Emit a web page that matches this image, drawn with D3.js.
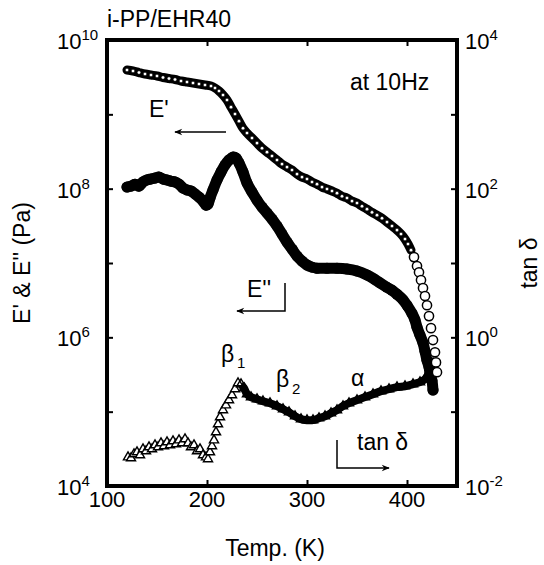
<!DOCTYPE html>
<html>
<head>
<meta charset="utf-8">
<script src="https://cdn.jsdelivr.net/npm/d3@7"></script>
<style>
  body { margin: 0; background: #fff; }
  svg { font-family: "Liberation Sans", Arial, Helvetica, sans-serif; }
</style>
</head>
<body>
<svg id="drawing_region"></svg>
<script>
// E' (storage modulus, Pa) - open circles
const tempStorage = [120,126,132,138,144,150,156,162,168,174,180,186,192,198,204,208,212,216,220,224,228,232,236,240,245,250,255,260,265,270,275,280,285,290,295,300,305,310,315,320,325,330,335,340,345,350,355,360,365,370,375,380,385,390,394,398,401,404,407,410,412,414,416,418,420,422,424,426,428,429,430];
const storageModulus = [3.95e9,3.83e9,3.65e9,3.49e9,3.38e9,3.28e9,3.13e9,3.03e9,2.94e9,2.81e9,2.72e9,2.64e9,2.56e9,2.48e9,2.40e9,2.26e9,2.06e9,1.82e9,1.56e9,1.25e9,1.01e9,8.1e8,6.5e8,5.6e8,4.8e8,4.1e8,3.5e8,3.1e8,2.75e8,2.43e8,2.14e8,1.95e8,1.78e8,1.57e8,1.43e8,1.35e8,1.23e8,1.15e8,1.05e8,9.9e7,9.3e7,8.7e7,7.9e7,7.5e7,6.8e7,6.4e7,5.8e7,5.3e7,4.8e7,4.4e7,4.0e7,3.55e7,3.14e7,2.77e7,2.45e7,2.10e7,1.80e7,1.49e7,1.20e7,9.1e6,7.5e6,5.9e6,4.6e6,3.6e6,2.7e6,1.93e6,1.33e6,9.2e5,6.3e5,4.6e5,3.4e5];

// E'' (loss modulus, Pa) - filled circles
const tempLoss = [120,124,128,132,136,140,144,148,152,156,160,164,168,172,176,180,184,188,192,196,199,201,203,206,210,214,218,222,226,229,232,236,240,245,250,255,260,265,270,275,280,285,290,295,300,305,310,320,330,340,350,360,367,373,380,385,390,396,400,405,408,410,413,416,418,420,422,423,425,426];
const lossModulus = [1.05e8,1.08e8,1.15e8,1.08e8,1.23e8,1.31e8,1.35e8,1.39e8,1.43e8,1.35e8,1.31e8,1.26e8,1.23e8,1.15e8,1.02e8,9.6e7,9.3e7,8.5e7,7.7e7,6.8e7,6.0e7,6.2e7,7.5e7,9.6e7,1.31e8,1.67e8,2.08e8,2.43e8,2.66e8,2.58e8,2.21e8,1.67e8,1.19e8,9.0e7,7.0e7,5.65e7,4.7e7,3.9e7,3.14e7,2.45e7,1.91e7,1.54e7,1.24e7,1.06e7,9.4e6,8.8e6,8.5e6,8.5e6,8.5e6,8.3e6,7.8e6,6.9e6,6.1e6,5.4e6,4.7e6,4.3e6,3.8e6,3.2e6,2.7e6,2.1e6,1.71e6,1.37e6,1.07e6,8.4e5,6.5e5,4.9e5,4.0e5,3.3e5,2.6e5,1.95e5];

// tan delta - open triangles (right axis)
const tempTan = [121,124,127,130,133,136,139,142,145,148,151,154,157,160,163,166,169,172,175,178,181,184,187,190,193,196,199,201,203,205,207,209,211,213,216,219,222,225,228,231,234,237,240,244,250,256,263,270,276,282,288,294,300,306,312,318,324,330,336,342,350,358,366,374,382,390,398,406,413,418,421,424,426];
const tanDelta = [0.0244,0.0237,0.0268,0.0285,0.0260,0.0313,0.0294,0.0333,0.0313,0.0354,0.0333,0.0377,0.0344,0.0389,0.0354,0.0401,0.0366,0.0413,0.0377,0.0427,0.0377,0.0333,0.0354,0.0294,0.0313,0.0260,0.0244,0.0230,0.0285,0.0344,0.0413,0.0530,0.0679,0.0843,0.105,0.122,0.143,0.167,0.201,0.242,0.234,0.207,0.172,0.157,0.147,0.138,0.130,0.119,0.108,0.0984,0.0869,0.0793,0.0769,0.0769,0.0818,0.0869,0.0955,0.105,0.119,0.130,0.143,0.157,0.172,0.189,0.201,0.214,0.220,0.234,0.249,0.274,0.310,0.362,0.450];

const xTicks = [200, 300, 400];
const xTickLabels = [100, 200, 300, 400];
const leftTicks = [1e5, 1e6, 1e7, 1e8, 1e9];
const leftLabelExp = [10, 8, 6, 4];
const rightTicks = [1e-1, 1e0, 1e1, 1e2, 1e3];
const rightLabelExp = [4, 2, 0, -2];

const config = {
    width: 544,
    height: 565,
    margin: {top: 40, left: 107, right: 87, bottom: 79}
};

const svg = d3.select('#drawing_region')
    .attr('width', config.width)
    .attr('height', config.height);

const inner_width = config.width - config.margin.left - config.margin.right;
const inner_height = config.height - config.margin.top - config.margin.bottom;

const chart = svg.append('g')
    .attr('transform', `translate(${config.margin.left}, ${config.margin.top})`);

const xscale = d3.scaleLinear().domain([100, 450]).range([0, inner_width]);
const yleft = d3.scaleLog().domain([1e4, 1e10]).range([inner_height, 0]);
const yright = d3.scaleLog().domain([1e-2, 1e4]).range([inner_height, 0]);

const storage = tempStorage.map((t, i) => ({t: t, v: storageModulus[i]}));
const loss = tempLoss.map((t, i) => ({t: t, v: lossModulus[i]}));
const tand = tempTan.map((t, i) => ({t: t, v: tanDelta[i]}));

// E'' : thick band of filled circles
chart.append('path')
    .datum(loss)
    .attr('fill', 'none')
    .attr('stroke', 'black')
    .attr('stroke-width', 11)
    .attr('stroke-linejoin', 'round')
    .attr('stroke-linecap', 'round')
    .attr('d', d3.line().x(d => xscale(d.t)).y(d => yleft(d.v)).curve(d3.curveCatmullRom));

chart.selectAll('.loss')
    .data(loss)
    .enter()
    .append('circle')
    .attr('cx', d => xscale(d.t))
    .attr('cy', d => yleft(d.v))
    .attr('r', 5.5)
    .attr('fill', 'black');

// tan delta
chart.append('path')
    .datum(tand)
    .attr('fill', 'none')
    .attr('stroke', 'black')
    .attr('stroke-width', 8)
    .attr('stroke-linejoin', 'round')
    .attr('d', d3.line().defined(d => d.t >= 234).x(d => xscale(d.t)).y(d => yright(d.v)).curve(d3.curveCatmullRom));

chart.selectAll('.tan')
    .data(tand)
    .enter()
    .append('path')
    .attr('transform', d => `translate(${xscale(d.t)}, ${yright(d.v)})`)
    .attr('d', d3.symbol(d3.symbolTriangle, 36))
    .attr('fill', d => d.t >= 234 ? 'none' : 'white')
    .attr('stroke', 'black')
    .attr('stroke-width', 1.4);

// E' : band of open circles
chart.append('path')
    .datum(storage)
    .attr('fill', 'none')
    .attr('stroke', 'black')
    .attr('stroke-width', 9)
    .attr('stroke-linejoin', 'round')
    .attr('stroke-linecap', 'round')
    .attr('d', d3.line().defined(d => d.t <= 404).x(d => xscale(d.t)).y(d => yleft(d.v)).curve(d3.curveCatmullRom));

chart.selectAll('.storage')
    .data(storage)
    .enter()
    .append('circle')
    .attr('cx', d => xscale(d.t))
    .attr('cy', d => yleft(d.v))
    .attr('r', d => d.t <= 404 ? 1.8 : 4.6)
    .attr('fill', 'white')
    .attr('stroke', 'black')
    .attr('stroke-width', d => d.t <= 404 ? 0.6 : 1.5);

// ticks (inward)
const tickStyle = g => {
    g.select('.domain').remove();
    g.selectAll('line').attr('stroke', 'black').attr('stroke-width', 2);
};
chart.append('g')
    .attr('transform', `translate(0, ${inner_height})`)
    .call(d3.axisBottom(xscale).tickValues(xTicks).tickSize(-6).tickSizeOuter(0).tickFormat(''))
    .call(tickStyle);
chart.append('g')
    .call(d3.axisTop(xscale).tickValues(xTicks).tickSize(-6).tickSizeOuter(0).tickFormat(''))
    .call(tickStyle);
chart.append('g')
    .call(d3.axisLeft(yleft).tickValues(leftTicks).tickSize(-6).tickSizeOuter(0).tickFormat(''))
    .call(tickStyle);
chart.append('g')
    .attr('transform', `translate(${inner_width}, 0)`)
    .call(d3.axisRight(yright).tickValues(rightTicks).tickSize(-6).tickSizeOuter(0).tickFormat(''))
    .call(tickStyle);

// frame
chart.append('rect')
    .attr('width', inner_width)
    .attr('height', inner_height)
    .attr('fill', 'none')
    .attr('stroke', 'black')
    .attr('stroke-width', 4);

// tick labels
chart.selectAll('.xlabel')
    .data(xTickLabels)
    .enter()
    .append('text')
    .attr('x', d => xscale(d))
    .attr('y', inner_height + 21)
    .attr('text-anchor', 'middle')
    .style('font-size', '22px')
    .text(d => d);

const powLabel = (sel, x, y, exp) => {
    const t = sel.append('text')
        .attr('x', x)
        .attr('y', y)
        .style('font-size', '22px');
    t.append('tspan').text('10');
    t.append('tspan').attr('dy', -9).style('font-size', '15px').text(exp);
};

leftLabelExp.forEach(e => powLabel(chart, -50, yleft(Math.pow(10, e)) + 9, e));
rightLabelExp.forEach(e => powLabel(chart, inner_width + 8, yright(Math.pow(10, e)) + 9, e));

// axis titles
svg.append('text')
    .attr('x', config.margin.left + inner_width / 2 - 7)
    .attr('y', 556)
    .attr('text-anchor', 'middle')
    .style('font-size', '23px')
    .text('Temp. (K)');

svg.append('text')
    .attr('transform', 'translate(30, 263) rotate(-90)')
    .attr('text-anchor', 'middle')
    .style('font-size', '23px')
    .text("E' & E'' (Pa)");

svg.append('text')
    .attr('transform', 'translate(537, 263) rotate(-90)')
    .attr('text-anchor', 'middle')
    .style('font-size', '23px')
    .text('tan \u03b4');

svg.append('text')
    .attr('x', 107)
    .attr('y', 27)
    .style('font-size', '23px')
    .text('i-PP/EHR40');

// annotations
const note = (x, y, txt, size) => svg.append('text')
    .attr('x', x).attr('y', y)
    .style('font-size', (size || 23) + 'px')
    .text(txt);

note(350, 90, 'at 10Hz');
note(149, 117, "E'");
note(247, 297, "E''");
note(221, 362, '\u03b2');
note(237, 368, '1', 15);
note(276, 387, '\u03b2');
note(292, 394, '2', 15);
note(351, 386, '\u03b1');
note(357, 450, 'tan \u03b4');

svg.append('defs').append('marker')
    .attr('id', 'head')
    .attr('viewBox', '0 0 10 10')
    .attr('refX', 9).attr('refY', 5)
    .attr('markerWidth', 10).attr('markerHeight', 8)
    .attr('markerUnits', 'userSpaceOnUse')
    .attr('orient', 'auto')
    .append('path')
    .attr('d', 'M0,1 L10,5 L0,9 L3,5 Z')
    .attr('fill', 'black');

const arrow = pts => svg.append('path')
    .attr('d', d3.line()(pts))
    .attr('fill', 'none')
    .attr('stroke', 'black')
    .attr('stroke-width', 1.5)
    .attr('marker-end', 'url(#head)');

arrow([[226, 132], [175, 132]]);
arrow([[285, 283], [285, 311], [237, 311]]);
arrow([[337, 440], [337, 468], [389, 468]]);
</script>
</body>
</html>
